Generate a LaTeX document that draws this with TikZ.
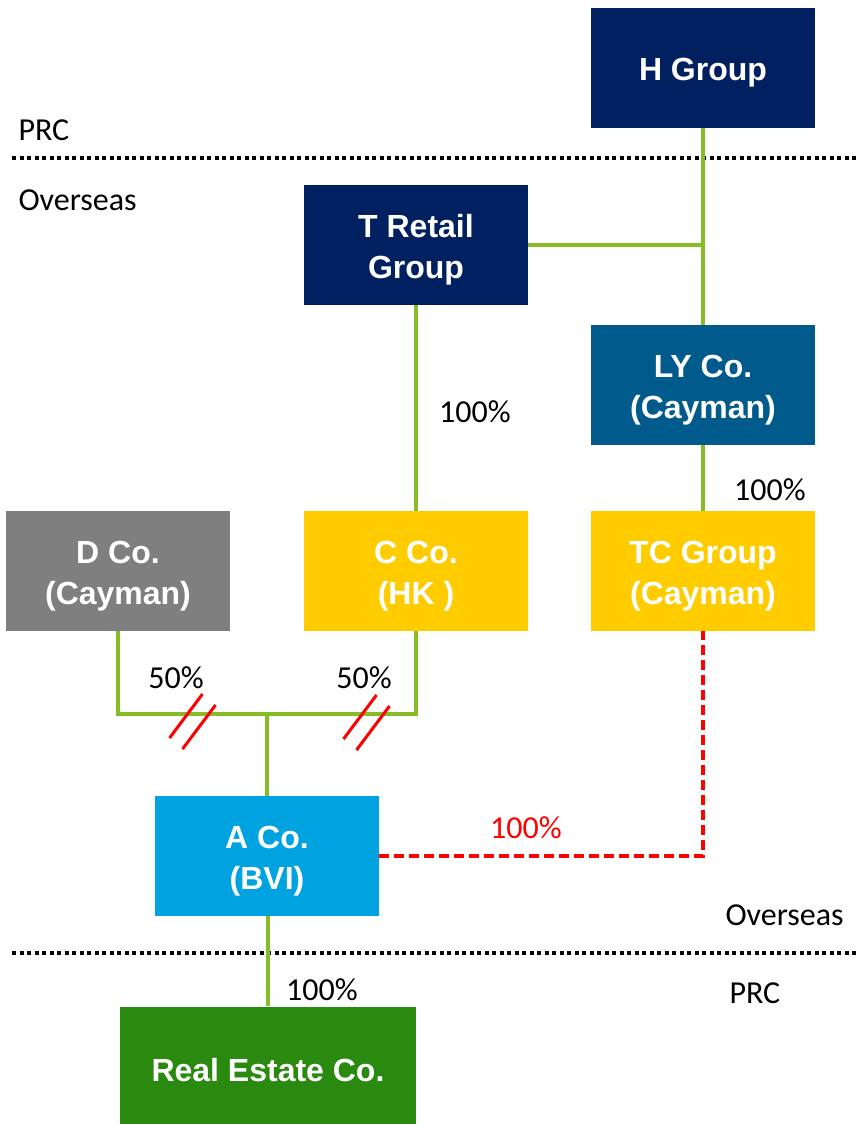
\documentclass[tikz,border=0pt]{standalone}
\usepackage{fontspec}
\setmainfont{Liberation Sans}
\newfontfamily\calibri{Carlito}
\usetikzlibrary{positioning}
\definecolor{navy}{HTML}{002060}
\definecolor{steel}{HTML}{005A8C}
\definecolor{greybox}{HTML}{7F7F7F}
\definecolor{gold}{HTML}{FFCC00}
\definecolor{sky}{HTML}{00A3E0}
\definecolor{leaf}{HTML}{2A8A10}
\definecolor{lime}{HTML}{86BC25}
\definecolor{alert}{HTML}{FF0000}
\newcommand{\topgap}{\rule{0pt}{32.5pt}}

\begin{document}
\begin{tikzpicture}[x=1pt,y=-1pt]
			\tikzset{entity/.style={shape = rectangle, minimum width = 224pt, minimum height = 120pt, inner sep = 0pt, text = white, align = center, font = \fontsize{32}{41}\selectfont\bfseries}}
			\tikzset{link/.style={draw = lime, line width = 3.5pt}}
			\tikzset{pct/.style={font = \calibri\fontsize{32}{34}\selectfont}}
			\tikzset{border/.style={line width = 4pt, dash pattern = on 4pt off 3.5pt}}
			\tikzset{cut/.style={draw = alert, line width = 3pt}}
			\useasboundingbox (0,0) rectangle (858,1124);
			%regions
			\draw[border] (12,158) -- (858,158);
			\draw[border] (12,953) -- (858,953);
			\node[pct, anchor = west] (prcA) at (15,130) {PRC};
			\node[pct, anchor = west] (ovsA) at (15,200) {Overseas};
			\node[pct, anchor = west] (ovsB) at (722,915) {Overseas};
			\node[pct, anchor = west] (prcB) at (726,993) {PRC};
			%entities
			\node[entity, fill = navy] (hgrp) at (703,68) {\topgap H Group};
			\node[entity, fill = navy] (trg) at (416,245) {\topgap T Retail\\Group};
			\node[entity, fill = steel] (lyco) at (703,385) {\topgap LY Co.\\(Cayman)};
			\node[entity, fill = greybox] (dco) at (118,571) {\topgap D Co.\\(Cayman)};
			\node[entity, fill = gold] (cco) at (416,571) {\topgap C Co.\\(HK )};
			\node[entity, fill = gold] (tcg) at (703,571) {\topgap TC Group\\(Cayman)};
			\node[entity, fill = sky] (aco) at (267,856) {\topgap A Co.\\(BVI)};
			\node[entity, fill = leaf, minimum width = 296pt, minimum height = 117pt] (reco) at (268,1065) {\topgap Real Estate Co.};
			%junctions
			\coordinate (tj) at (trg -| hgrp);
			\coordinate (jn) at (267,714);
			%edges
			\draw[link] (hgrp) -- (lyco);
			\draw[link] (trg) -- (tj);
			\draw[link] (trg) -- (cco);
			\draw[link] (lyco) -- (tcg);
			\draw[link] (dco.south) -- (dco.south |- jn) -- (cco.south |- jn) -- (cco.south);
			\draw[link] (jn) -- (aco);
			\draw[link] (aco.south -| reco.north) -- (reco);
			\draw[draw = alert, line width = 3.5pt, dash pattern = on 10pt off 5pt] (aco.east) -| (tcg.south);
			%breaks
			\draw[cut] (186,716) ++(-16.5,22) -- ++(33,-44);
			\draw[cut] (199,727) ++(-16.5,22) -- ++(33,-44);
			\draw[cut] (360,717) ++(-16.5,22) -- ++(33,-44);
			\draw[cut] (373,728) ++(-16.5,22) -- ++(33,-44);
			%labels
			\node[pct] (pTC) at (475,412) {100\%};
			\node[pct] (pLY) at (770,490) {100\%};
			\node[pct] (pD) at (176,678) {50\%};
			\node[pct] (pC) at (364,678) {50\%};
			\node[pct] (pRE) at (322,990) {100\%};
			\node[pct, text = alert] (pA) at (526,828) {100\%};
\end{tikzpicture}
\end{document}
